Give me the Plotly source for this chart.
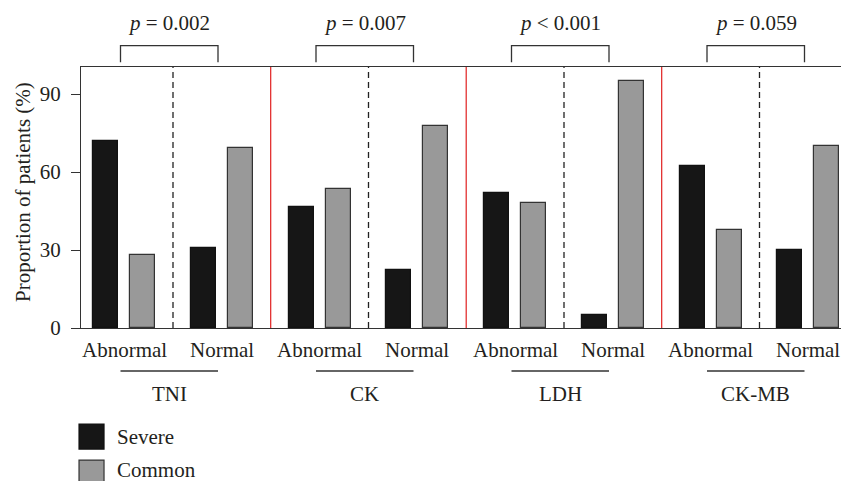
import plotly.graph_objects as go

markers = ["TNI", "CK", "LDH", "CK-MB"]
levels = ["Abnormal", "Normal"]
severe = [[72.0, 30.8], [46.5, 22.2], [52.0, 5.1], [62.4, 29.9]]
common = [[28.0, 69.2], [53.5, 77.8], [48.0, 94.9], [37.6, 70.1]]
pvalues = ["<i>p</i> = 0.002", "<i>p</i> = 0.007", "<i>p</i> &lt; 0.001", "<i>p</i> = 0.059"]
yticks = [0, 30, 60, 90]

TXT = "#231f20"
FONT = "Liberation Serif"
FS = 21
GROUP = 195.5      # spacing between marker groups
PAIR = 97.5        # spacing between Abnormal / Normal pairs
GAP = 37.0         # spacing severe -> common
BW = 25.0

fig = go.Figure()
sx, sy, cx, cy = [], [], [], []
for g in range(len(markers)):
    for l in range(len(levels)):
        base = g * GROUP + l * PAIR
        sx.append(base); sy.append(severe[g][l])
        cx.append(base + GAP); cy.append(common[g][l])

fig.add_trace(go.Bar(x=sx, y=sy, width=BW, name="Severe",
                     marker=dict(color="#161616", line=dict(color="#111111", width=1.2)),
                     showlegend=False))
fig.add_trace(go.Bar(x=cx, y=cy, width=BW, name="Common",
                     marker=dict(color="#999999", line=dict(color="#333333", width=1.2)),
                     showlegend=False))

shapes = []
annotations = []
for g in range(len(markers)):
    g0 = g * GROUP
    shapes.append(dict(type="line", xref="x", yref="paper", x0=g0 + 67.5, x1=g0 + 67.5,
                       y0=0, y1=1, line=dict(color="#222222", width=1.3, dash="6px,4px")))
    if g < len(markers) - 1:
        shapes.append(dict(type="line", xref="x", yref="paper", x0=g0 + 165.2, x1=g0 + 165.2,
                           y0=0, y1=1, line=dict(color="#e02020", width=1.2)))
    left = g0 + GAP / 2 - 3.5
    right = g0 + PAIR + GAP / 2 - 3.5
    shapes.append(dict(type="path", xref="x", yref="paper",
                       path=f"M {left},1.018 L {left},1.0816 L {right},1.0816 L {right},1.018",
                       line=dict(color="#333333", width=1.3)))
    shapes.append(dict(type="line", xref="x", yref="paper", x0=left, x1=right,
                       y0=-0.1648, y1=-0.1648, line=dict(color="#333333", width=1.3)))
    annotations.append(dict(x=(left + right) / 2, y=1.1667, xref="x", yref="paper",
                            text=pvalues[g], showarrow=False, yanchor="middle",
                            font=dict(family=FONT, size=FS, color=TXT)))
    annotations.append(dict(x=(left + right) / 2, y=-0.251, xref="x", yref="paper",
                            text=markers[g], showarrow=False, yanchor="middle",
                            font=dict(family=FONT, size=FS, color=TXT)))
    for l in range(len(levels)):
        annotations.append(dict(x=g0 + l * PAIR + GAP / 2, y=-0.0843, xref="x", yref="paper",
                                text=levels[l], showarrow=False, yanchor="middle",
                                font=dict(family=FONT, size=FS, color=TXT)))

leg = [("Severe", "#161616", "#111111", -0.368, -0.4176),
       ("Common", "#999999", "#333333", -0.506, -0.5440)]
for name, fill, edge, ytop, ytext in leg:
    shapes.append(dict(type="rect", xref="paper", yref="paper", x0=-0.0026, x1=0.0303,
                       y0=ytop - 0.0958, y1=ytop, fillcolor=fill, line=dict(color=edge, width=1.2)))
    annotations.append(dict(x=0.0447, y=ytext, xref="paper", yref="paper", text=name,
                            showarrow=False, xanchor="left", yanchor="middle",
                            font=dict(family=FONT, size=FS, color=TXT)))

annotations.append(dict(x=-0.0763, y=0.521, xref="paper", yref="paper",
                        text="Proportion of patients (%)", textangle=-90, showarrow=False,
                        xanchor="center", yanchor="middle",
                        font=dict(family=FONT, size=FS, color=TXT)))

fig.update_layout(
    width=841, height=481,
    margin=dict(l=81, r=0, t=67, b=153),
    plot_bgcolor="white", paper_bgcolor="white",
    shapes=shapes, annotations=annotations,
    bargap=0,
    xaxis=dict(range=[-24.5, 735.5], showgrid=False, zeroline=False, showticklabels=False,
               ticks="", showline=True, mirror=True, linecolor="#333333", linewidth=1.3),
    yaxis=dict(range=[0, 100.4], tickvals=yticks, showgrid=False, zeroline=False,
               ticks="outside", ticklen=9, tickcolor="#333333", tickwidth=1.3,
               ticklabelstandoff=6,
               showline=True, linecolor="#333333", linewidth=1.3,
               tickfont=dict(family=FONT, size=FS, color=TXT)),
)
fig.write_html("out.html", config={"displayModeBar": False},
               post_script="document.body.style.margin='0';document.body.style.padding='0';document.body.style.overflow='hidden';")
